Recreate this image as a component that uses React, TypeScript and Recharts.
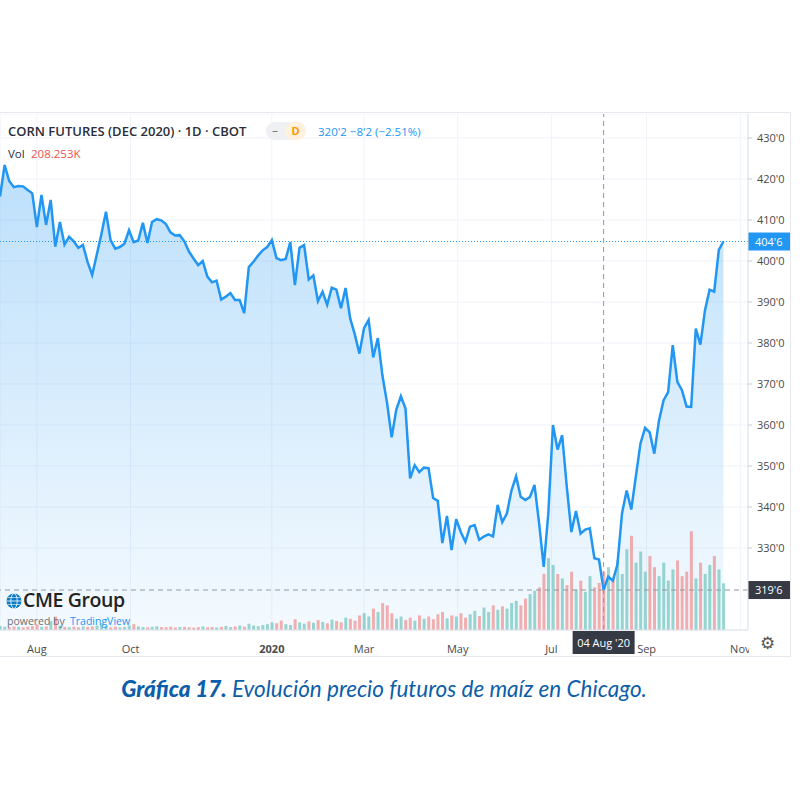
import React from 'react';
import {
  ComposedChart,
  Area,
  Line,
  Bar,
  Cell,
  XAxis,
  YAxis,
  CartesianGrid,
  ReferenceLine,
} from 'recharts';

// Corn futures Dec 2020, one point every 3 calendar days from 8 Jul 2019
const START = Date.UTC(2019, 6, 8);
const DAY = 86400000;
const STEP_DAYS = 3;

const prices = [
  415.7, 423.4, 419.5, 418.0, 418.3, 418.2, 417.3, 416.5, 408.3, 416.1,
  408.8, 414.9, 403.5, 409.5, 404.0, 405.9, 404.8, 403.2, 403.9, 399.8,
  396.6, 401.5, 406.5, 412.0, 405.1, 403.0, 403.4, 404.2, 407.5, 404.6,
  405.0, 409.3, 404.4, 409.5, 410.2, 409.9, 409.0, 407.0, 406.2, 406.3,
  404.8, 402.3, 400.6, 399.0, 400.0, 396.2, 394.8, 395.2, 390.6, 391.3,
  392.2, 390.5, 390.5, 387.3, 398.5, 399.8, 401.3, 402.6, 403.4, 405.1,
  400.7, 400.2, 400.5, 404.6, 394.1, 403.2, 403.9, 395.5, 396.5, 390.2,
  392.5, 389.3, 393.5, 393.0, 388.5, 393.4, 386.0, 382.1, 377.4, 383.6,
  385.6, 376.5, 381.2, 372.0, 365.4, 357.0, 363.7, 367.0, 364.0, 347.0,
  350.2, 348.5, 349.6, 349.5, 342.2, 341.5, 331.2, 337.8, 329.5, 337.0,
  333.9, 331.5, 335.2, 335.6, 332.0, 332.8, 333.3, 332.8, 340.5, 336.3,
  338.4, 344.0, 347.5, 342.5, 341.7, 342.4, 345.4, 336.0, 325.4, 338.5,
  360.0, 354.0, 357.5, 345.0, 333.9, 339.0, 333.5, 334.5, 334.8, 327.5,
  327.2, 319.8, 323.0, 322.0, 326.0, 338.5, 344.0, 339.4, 347.5, 355.5,
  359.3, 358.2, 353.0, 361.0, 366.0, 368.0, 379.5, 370.5, 368.5, 364.5,
  364.4, 383.5, 379.6, 388.0, 393.0, 392.5, 402.7, 404.75,
];

// volume in thousands of contracts
const volumes = [
  18, 15, 12, 16, 14, 12, 15, 18, 25, 14,
  16, 40, 60, 20, 14, 12, 15, 12, 16, 14,
  16, 20, 30, 18, 12, 15, 12, 14, 20, 26,
  16, 13, 12, 14, 17, 13, 12, 15, 11, 13,
  14, 12, 10, 13, 16, 12, 13, 11, 14, 18,
  13, 16, 20, 15, 28, 20, 17, 22, 26, 34,
  30, 42, 26, 22, 48, 34, 28, 38, 32, 44,
  36, 30, 46, 40, 34, 55, 50, 42, 65, 75,
  60, 95, 80, 120, 110, 75, 50, 60, 45, 55,
  42, 65, 50, 60, 48, 70, 80, 52, 65, 60,
  75, 55, 70, 85, 62, 100, 80, 110, 90, 105,
  95, 120, 130, 110, 140, 160, 175, 190, 250, 320,
  290, 250, 230, 200, 260, 180, 220, 170, 240, 190,
  210, 260, 280, 230, 310, 250, 360, 420, 300, 350,
  260, 330, 280, 240, 300, 220, 270, 310, 240, 260,
  440, 230, 300, 250, 290, 330, 270, 208,
];

const monthTicks = ['2019-08-01', '2019-10-01', '2020-01-01', '2020-03-01', '2020-05-01', '2020-07-01', '2020-09-01', '2020-11-01'];
const monthLabels = ['Aug', 'Oct', '2020', 'Mar', 'May', 'Jul', 'Sep', 'Nov'];
const priceTicks = [330, 340, 350, 360, 370, 380, 390, 400, 410, 420, 430];

const CROSS_DATE = '2020-08-04';
const CROSS_PRICE = 319.75;
const LAST_PRICE = 404.75;

const FONT = '"Open Sans", "DejaVu Sans", sans-serif';
const UP = 'rgba(38,166,154,0.45)';
const DOWN = 'rgba(239,83,80,0.45)';

const tickTimes = monthTicks.map((d) => Date.parse(d));

const data = prices.map((p, i) => ({
  t: START + i * STEP_DAYS * DAY,
  price: p,
  vol: volumes[i],
  up: i === 0 || p >= prices[i - 1],
}));

const fmtPrice = (v: number) => {
  const whole = Math.floor(v);
  const eighths = Math.round((v - whole) * 8);
  return `${whole}'${eighths}`;
};

const MonthTick = (props: any) => {
  const { x, y, payload } = props;
  const idx = tickTimes.indexOf(payload.value);
  const label = monthLabels[idx] ?? '';
  return (
    <text
      x={x}
      y={y + 15}
      textAnchor="middle"
      fontSize={11}
      fontFamily={FONT}
      fontWeight={label === '2020' ? 700 : 400}
      fill="#4a4a4a"
    >
      {label}
    </text>
  );
};

const PriceTag = (props: any) => {
  const { viewBox, text, bg } = props;
  if (!viewBox) return null;
  const { x, y, width } = viewBox;
  return (
    <g>
      <rect x={x + width} y={y - 9} width={42} height={18} fill={bg} />
      <text x={x + width + 7} y={y + 4} fill="#fff" fontSize={11} fontFamily={FONT}>
        {text}
      </text>
    </g>
  );
};

const DateTag = (props: any) => {
  const { viewBox, text } = props;
  if (!viewBox) return null;
  const { x, y, height } = viewBox;
  return (
    <g>
      <rect x={x - 31} y={y + height + 1} width={62} height={23} fill="#363a45" />
      <text x={x} y={y + height + 17} textAnchor="middle" fill="#fff" fontSize={11} fontFamily={FONT}>
        {text}
      </text>
    </g>
  );
};

const CmeLogo = () => (
  <svg width={16} height={16} viewBox="0 0 16 16" style={{ position: 'absolute', left: 6, top: 593 }}>
    <circle cx={8} cy={8} r={7.5} fill="#0a7bc4" />
    <ellipse cx={8} cy={8} rx={3.2} ry={7.5} fill="none" stroke="#fff" strokeWidth={0.8} />
    <line x1={0.5} y1={8} x2={15.5} y2={8} stroke="#fff" strokeWidth={0.8} />
    <line x1={2} y1={4.5} x2={14} y2={4.5} stroke="#fff" strokeWidth={0.6} />
    <line x1={2} y1={11.5} x2={14} y2={11.5} stroke="#fff" strokeWidth={0.6} />
  </svg>
);

export default function App() {
  const domainX = [START, START + 487 * DAY];
  return (
    <div style={{ position: 'absolute', left: 0, top: 0, width: 800, height: 800, background: '#fff', fontFamily: FONT }}>
      <div
        style={{
          position: 'absolute',
          left: -1,
          top: 112,
          width: 791,
          height: 543,
          borderTop: '1px solid #e6e8ee',
          borderRight: '1px solid #e6e8ee',
          borderBottom: '1px solid #e6e8ee',
        }}
      />
      <div style={{ position: 'absolute', left: 0, top: 114 }}>
        <ComposedChart
          width={790}
          height={542}
          data={data}
          margin={{ top: 0, right: 0, bottom: 0, left: 0 }}
        >
          <defs>
            <linearGradient id="areaFill" x1="0" y1="0" x2="0" y2="1">
              <stop offset="0%" stopColor="#2196f3" stopOpacity={0.3} />
              <stop offset="100%" stopColor="#2196f3" stopOpacity={0.05} />
            </linearGradient>
          </defs>
          <CartesianGrid stroke="#f0f3fa" yAxisId="price" />
          <XAxis
            dataKey="t"
            type="number"
            scale="time"
            domain={domainX}
            ticks={tickTimes}
            interval={0}
            tick={<MonthTick />}
            tickLine={false}
            axisLine={{ stroke: '#e0e3eb' }}
            height={26}
            allowDataOverflow
          />
          <YAxis
            yAxisId="price"
            orientation="right"
            type="number"
            domain={[310, 435.85]}
            ticks={priceTicks}
            interval={0}
            tickFormatter={fmtPrice}
            tick={{ fontSize: 11, fill: '#4a4a4a', fontFamily: FONT, textAnchor: 'start' }}
            tickSize={4}
            tickLine={{ stroke: '#c8ccd6' }}
            tickMargin={5}
            axisLine={{ stroke: '#e0e3eb' }}
            width={42}
            allowDataOverflow
          />
          <YAxis yAxisId="vol" hide domain={[0, 2300]} />
          <Area
            yAxisId="price"
            type="linear"
            dataKey="price"
            stroke="none"
            fill="url(#areaFill)"
            fillOpacity={1}
            isAnimationActive={false}
          />
          <Bar yAxisId="vol" dataKey="vol" barSize={3} isAnimationActive={false}>
            {data.map((d, i) => (
              <Cell key={`v-${i}`} fill={d.up ? UP : DOWN} />
            ))}
          </Bar>
          <Line
            yAxisId="price"
            type="linear"
            dataKey="price"
            stroke="#2196f3"
            strokeWidth={2.5}
            dot={false}
            activeDot={false}
            isAnimationActive={false}
          />
          <ReferenceLine
            yAxisId="price"
            y={LAST_PRICE}
            stroke="#2196f3"
            strokeDasharray="1 2"
            label={<PriceTag text={fmtPrice(LAST_PRICE)} bg="#2196f3" />}
          />
          <ReferenceLine
            yAxisId="price"
            y={CROSS_PRICE}
            stroke="#9598a1"
            strokeDasharray="5 4"
            label={<PriceTag text={fmtPrice(CROSS_PRICE)} bg="#363a45" />}
          />
          <ReferenceLine
            yAxisId="price"
            x={Date.parse(CROSS_DATE)}
            stroke="#9598a1"
            strokeDasharray="5 4"
            label={<DateTag text="04 Aug '20" />}
          />
        </ComposedChart>
      </div>

      {/* legend / header */}
      <div style={{ position: 'absolute', left: 8, top: 122, fontSize: 13, lineHeight: '18px', fontWeight: 600, color: '#2a2e39', whiteSpace: 'nowrap' }}>
        CORN FUTURES (DEC 2020) · 1D · CBOT
      </div>
      <div style={{ position: 'absolute', left: 266, top: 122, width: 40, height: 18, borderRadius: 9, background: '#eef0f4' }}>
        <span style={{ position: 'absolute', left: 6, top: 0, fontSize: 12, color: '#787b86', lineHeight: '18px' }}>–</span>
        <span
          style={{
            position: 'absolute',
            left: 19,
            top: 0,
            width: 21,
            height: 18,
            borderRadius: 9,
            background: '#fff1dc',
            color: '#ff9800',
            fontSize: 11,
            fontWeight: 700,
            lineHeight: '18px',
            textAlign: 'center',
          }}
        >
          D
        </span>
      </div>
      <div style={{ position: 'absolute', left: 318, top: 124, fontSize: 11.5, lineHeight: '15px', color: '#2196f3', whiteSpace: 'nowrap' }}>
        320'2 −8'2 (−2.51%)
      </div>
      <div style={{ position: 'absolute', left: 8, top: 146, fontSize: 11.5, lineHeight: '15px', color: '#2a2e39', whiteSpace: 'nowrap' }}>
        Vol
      </div>
      <div style={{ position: 'absolute', left: 31, top: 146, fontSize: 11.5, lineHeight: '15px', color: '#ef5350', whiteSpace: 'nowrap' }}>
        208.253K
      </div>

      {/* watermark */}
      <CmeLogo />
      <div style={{ position: 'absolute', left: 23, top: 590, fontSize: 19.5, lineHeight: '20px', fontWeight: 600, color: '#222', letterSpacing: -0.4, whiteSpace: 'nowrap' }}>
        CME Group
      </div>
      <div style={{ position: 'absolute', left: 7, top: 615, fontSize: 10.5, lineHeight: '12px', color: '#6f6f6f', whiteSpace: 'nowrap' }}>
        powered by
      </div>
      <div style={{ position: 'absolute', left: 70, top: 615, fontSize: 10.5, lineHeight: '12px', color: '#2196f3', whiteSpace: 'nowrap' }}>
        TradingView
      </div>

      {/* corner under the price scale */}
      <div style={{ position: 'absolute', left: 749, top: 631, width: 41, height: 24, background: '#fff' }}>
        <span style={{ position: 'absolute', left: 11, top: 0, fontSize: 17, color: '#555', lineHeight: '24px', fontFamily: '"DejaVu Sans", sans-serif' }}>⚙</span>
      </div>

      {/* caption */}
      <div
        style={{
          position: 'absolute',
          left: 0,
          top: 675,
          width: 768,
          textAlign: 'center',
          fontSize: 22.5,
          lineHeight: '28px',
          fontStyle: 'italic',
          color: '#0d5ea9',
          fontFamily: 'Lato, "Open Sans", sans-serif',
          whiteSpace: 'nowrap',
        }}
      >
        <span style={{ fontWeight: 900 }}>Gráfica 17.</span> Evolución precio futuros de maíz en Chicago.
      </div>
    </div>
  );
}
